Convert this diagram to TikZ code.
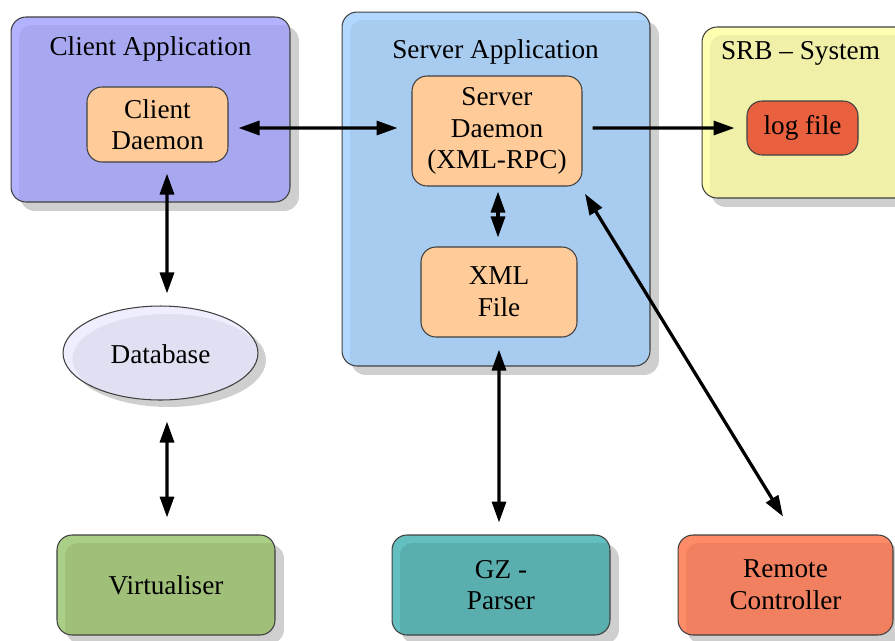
\documentclass[tikz,border=0pt]{standalone}
\usepackage{fontspec}
\setmainfont{Liberation Serif}
\usetikzlibrary{arrows.meta}
\usetikzlibrary{shadows}
\usetikzlibrary{shapes.geometric}

\definecolor{clientlight}{HTML}{B2B2FF}
\definecolor{clientfill}{HTML}{A8A8F0}
\definecolor{serverlight}{HTML}{B2D8FF}
\definecolor{serverfill}{HTML}{A8CCF0}
\definecolor{srblight}{HTML}{FFFFB2}
\definecolor{srbfill}{HTML}{F0F0A8}
\definecolor{peach}{HTML}{FFCC99}
\definecolor{logred}{HTML}{E8603E}
\definecolor{dblight}{HTML}{EEEEFF}
\definecolor{dbfill}{HTML}{E0E0F2}
\definecolor{virtlight}{HTML}{AAD088}
\definecolor{virtfill}{HTML}{A0C07A}
\definecolor{gzlight}{HTML}{64C0C0}
\definecolor{gzfill}{HTML}{5AAEAE}
\definecolor{remotelight}{HTML}{FF8C68}
\definecolor{remotefill}{HTML}{F08060}

\begin{document}
\begin{tikzpicture}[x=0.02cm, y=-0.02cm,
font=\fontsize{15.5}{18}\selectfont,
frame/.style={draw=black!75, line width=0.6pt, rounded corners=0.3cm,
	drop shadow={shadow xshift=0.18cm, shadow yshift=-0.18cm, fill=black!19, opacity=1}},
rim/.style={path picture={\fill[#1, rounded corners=0.25cm]
	([xshift=0.16cm, yshift=-0.16cm]path picture bounding box.north west)
	rectangle ([xshift=0.5cm, yshift=-0.5cm]path picture bounding box.south east);}},
daemon/.style={draw=black!75, line width=0.6pt, rounded corners=0.3cm, fill=peach, align=center},
tool/.style={frame, align=center, minimum width=4.36cm, minimum height=2cm},
title/.style={anchor=base},
simplex/.style={line width=0.065cm, -{Triangle[length=0.42cm, width=0.28cm]}},
duplex/.style={line width=0.065cm, {Triangle[length=0.42cm, width=0.28cm]}-{Triangle[length=0.42cm, width=0.28cm]}}]
\useasboundingbox (0,0) rectangle (895,640);

\node[frame, fill=clientlight, rim=clientfill, minimum width=5.58cm, minimum height=3.7cm] (client) at (150.5,109.5) {};
\node[title] (clienttitle) at (150.5,55) {Client Application};
\node[daemon, minimum width=2.82cm, minimum height=1.5cm] (cdaemon) at (157.5,124.5) {Client\\Daemon};

\node[frame, fill=serverlight, rim=serverfill, minimum width=6.16cm, minimum height=7.08cm] (server) at (496,189) {};
\node[title] (servertitle) at (495.5,58) {Server Application};
\node[daemon, minimum width=3.4cm, minimum height=2.2cm] (sdaemon) at (497,131) {Server\\Daemon\\(XML-RPC)};
\node[daemon, minimum width=3.12cm, minimum height=1.8cm] (xmlfile) at (499,292) {XML\\File};

\node[frame, fill=srblight, rim=srbfill, minimum width=4.16cm, minimum height=3.42cm] (srb) at (806,112.5) {};
\node[title] (srbtitle) at (800.5,59) {SRB -- System};
\node[draw=black!75, line width=0.6pt, rounded corners=0.3cm, fill=logred, minimum width=2.22cm, minimum height=1.08cm] (logfile) at (802.5,128) {log file};

\node[ellipse, draw=black!75, line width=0.6pt, fill=dblight, minimum width=3.9cm, minimum height=1.88cm, text height=1.2em,
	drop shadow={shadow xshift=0.16cm, shadow yshift=-0.14cm, fill=black!19, opacity=1},
	path picture={\fill[dbfill] ([xshift=0.14cm, yshift=-0.12cm]path picture bounding box.center) ellipse (1.9cm and 0.9cm);}] (db) at (160.5,353) {Database};

\node[tool, fill=virtlight, rim=virtfill] (virt) at (166,585) {Virtualiser};
\node[tool, fill=gzlight, rim=gzfill] (gzparser) at (501,585) {GZ -\\Parser};
\node[tool, fill=remotelight, rim=remotefill, minimum width=4.3cm] (remote) at (785.5,585) {Remote\\Controller};

\draw[duplex, shorten <=0.2cm, shorten >=0.28cm] ([yshift=-0.07cm]cdaemon.east) -- ([yshift=0.06cm]sdaemon.west);
\draw[simplex, shorten <=0.2cm, shorten >=0.24cm] ([yshift=0.06cm]sdaemon.east) -- (logfile.west);
\draw[duplex, shorten <=0.1cm, shorten >=0.18cm] ([xshift=0.02cm]sdaemon.south) -- ([xshift=-0.02cm]xmlfile.north);
\draw[duplex, shorten <=0.22cm, shorten >=0.24cm] ([xshift=0.19cm]cdaemon.south) -- ([xshift=0.13cm]db.north);
\draw[duplex, shorten <=0.42cm, shorten >=0.34cm] ([xshift=0.13cm]db.south) -- ([xshift=0.02cm]virt.north);
\draw[duplex, shorten <=0.24cm, shorten >=0.24cm] (xmlfile.south) -- ([xshift=-0.04cm]gzparser.north);
\draw[duplex, shorten <=0.17cm, shorten >=0.42cm] ([xshift=-0.04cm]sdaemon.south east) -- ([xshift=0.17cm]remote.north);
\end{tikzpicture}
\end{document}
